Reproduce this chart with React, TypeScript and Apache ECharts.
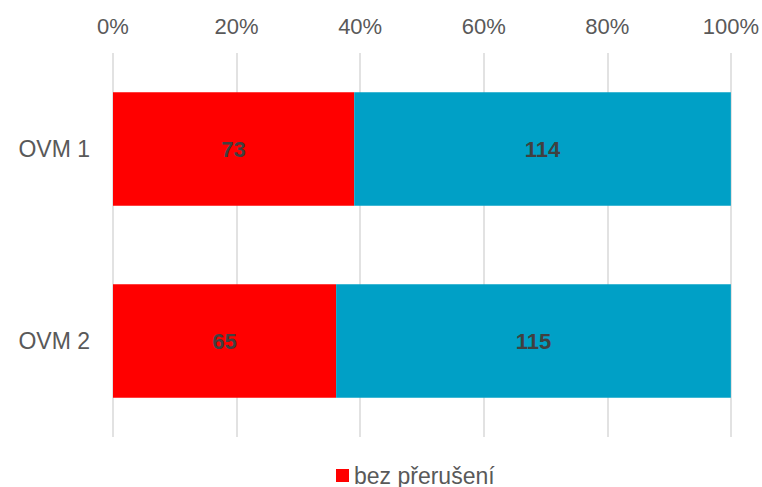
import React, { useEffect, useRef } from "react";
import * as echarts from "echarts";

const categories = ["OVM 1", "OVM 2"];
const redValues = [73, 65];
const blueValues = [114, 115];
const xTicks = { min: 0, max: 100, interval: 20 };

export default function App() {
  const ref = useRef<HTMLDivElement>(null);
  useEffect(() => {
    const chart = echarts.init(ref.current!, null, { renderer: "svg" });
    const totals = redValues.map((v, i) => v + blueValues[i]);
    const redPct = redValues.map((v, i) => (v / totals[i]) * 100);
    const bluePct = blueValues.map((v, i) => (v / totals[i]) * 100);
    const font = "Liberation Sans, Arial, sans-serif";
    const label = {
      show: true,
      position: "inside",
      fontFamily: font,
      fontSize: 22,
      fontWeight: "bold",
      color: "#404040",
    };
    chart.setOption({
      animation: false,
      textStyle: { fontFamily: font },
      grid: { left: 113, right: 31, top: 53, bottom: 50 },
      legend: {
        data: ["bez přerušení"],
        left: 331,
        top: 459,
        itemWidth: 13,
        itemHeight: 13,
        icon: "rect",
        textStyle: { fontFamily: font, fontSize: 23, color: "#595959" },
      },
      xAxis: {
        type: "value",
        position: "top",
        min: xTicks.min,
        max: xTicks.max,
        interval: xTicks.interval,
        axisLine: { show: false },
        axisTick: { show: false },
        axisLabel: {
          formatter: "{value}%",
          fontFamily: font,
          fontSize: 22,
          color: "#595959",
          margin: 16,
        },
        splitLine: { show: true, lineStyle: { color: "#d9d9d9", width: 1.5 } },
      },
      yAxis: {
        type: "category",
        data: categories,
        inverse: true,
        axisLine: { show: false },
        axisTick: { show: false },
        axisLabel: { fontFamily: font, fontSize: 23, color: "#595959", margin: 23 },
      },
      series: [
        {
          name: "bez přerušení",
          type: "bar",
          stack: "total",
          barWidth: "59%",
          data: redPct,
          itemStyle: { color: "#ff0000" },
          label: { ...label, formatter: (p: any) => String(redValues[p.dataIndex]) },
        },
        {
          name: "s přerušením",
          type: "bar",
          stack: "total",
          barWidth: "59%",
          data: bluePct,
          itemStyle: { color: "#00a0c6" },
          label: { ...label, formatter: (p: any) => String(blueValues[p.dataIndex]) },
        },
      ],
    });
    return () => chart.dispose();
  }, []);
  return <div ref={ref} style={{ width: 762, height: 487, position: "absolute", left: 0, top: 0 }} />;
}
